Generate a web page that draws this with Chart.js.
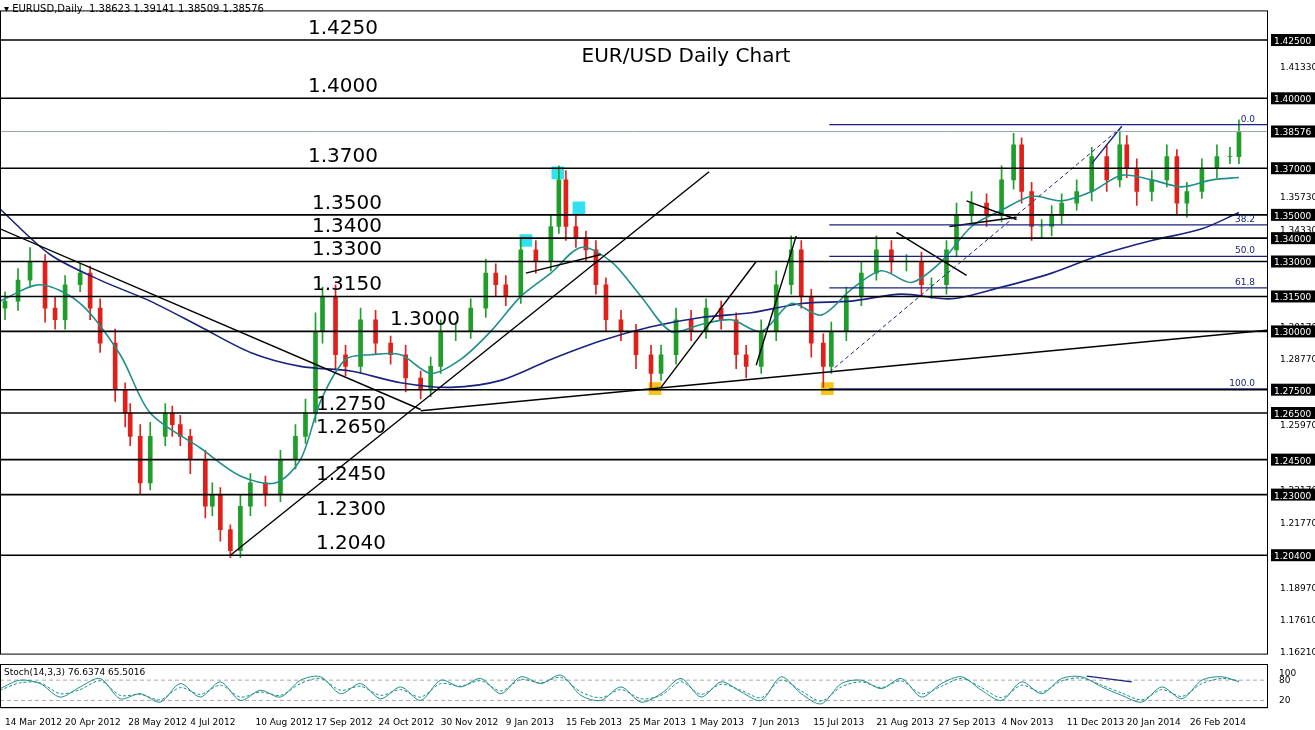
<!DOCTYPE html>
<html><head><meta charset="utf-8">
<script src="https://cdn.jsdelivr.net/npm/chart.js@4.4.0/dist/chart.umd.min.js"></script>
<style>
body{margin:0;background:#fff;font-family:"DejaVu Sans",Arial,sans-serif}
#wrap{position:relative;width:1315px;height:730px}
#main{position:absolute;left:0;top:0}
#stoch{position:absolute;left:0;top:664px}
</style></head><body>
<div id="wrap">
<canvas id="main" width="1315" height="664"></canvas>
<canvas id="stoch" width="1315" height="66"></canvas>
</div>
<script>
// ---- data (bar position, price) ----
const barX = [5,18,30,45,55,65,80,90,100,115,125,130,140,150,165,172,180,190,205,212,220,230,240,250,265,280,295,305,315,322,335,345,360,375,390,405,420,430,440,455,470,485,495,505,520,535,550,558,565,575,585,595,605,620,635,650,660,675,690,705,720,735,745,760,775,790,800,810,822,830,845,860,875,890,905,920,930,945,955,970,985,1000,1012,1020,1030,1040,1050,1060,1075,1090,1105,1118,1125,1135,1150,1165,1175,1185,1200,1215,1228,1237];
const closes = [1.3130,1.3220,1.3300,1.3100,1.3050,1.3200,1.3250,1.3100,1.2950,1.2750,1.2650,1.2550,1.2350,1.2550,1.2650,1.2600,1.2550,1.2450,1.2250,1.2300,1.2150,1.2060,1.2250,1.2350,1.2300,1.2450,1.2550,1.2650,1.3000,1.3150,1.2900,1.2850,1.3050,1.2950,1.2900,1.2800,1.2750,1.2850,1.3000,1.3000,1.3100,1.3250,1.3200,1.3150,1.3350,1.3300,1.3450,1.3650,1.3450,1.3400,1.3350,1.3200,1.3050,1.3000,1.2900,1.2820,1.2900,1.3050,1.3000,1.3100,1.3050,1.2900,1.2850,1.3000,1.3200,1.3350,1.3150,1.2950,1.2850,1.3000,1.3150,1.3250,1.3350,1.3300,1.3300,1.3200,1.3200,1.3350,1.3500,1.3550,1.3500,1.3650,1.3800,1.3600,1.3450,1.3450,1.3500,1.3550,1.3600,1.3750,1.3650,1.3800,1.3700,1.3600,1.3650,1.3750,1.3550,1.3600,1.3700,1.3750,1.3750,1.3858];
const wickUp = [.004,.005,.006,.003,.005,.004,.004,.003,.004,.006,.003,.004,.005,.006,.004,.003,.004,.003,.004,.005,.003,.002,.005,.004,.003,.004,.005,.006,.008,.004,.005,.004,.005,.004,.003,.004,.003,.004,.005,.004,.004,.006,.004,.004,.005,.004,.005,.006,.004,.005,.003,.004,.003,.004,.003,.004,.004,.005,.004,.004,.003,.003,.004,.005,.006,.006,.004,.003,.004,.004,.004,.005,.006,.004,.003,.004,.003,.004,.005,.005,.004,.006,.005,.003,.004,.003,.004,.004,.005,.004,.005,.006,.004,.004,.004,.005,.003,.004,.004,.005,.004,.005];
const wickDn = [.005,.004,.003,.006,.004,.004,.003,.005,.004,.005,.006,.004,.005,.003,.004,.005,.004,.006,.005,.004,.005,.003,.003,.004,.005,.003,.004,.003,.004,.005,.006,.004,.003,.005,.004,.006,.004,.003,.003,.004,.003,.004,.005,.004,.003,.005,.004,.003,.006,.004,.005,.004,.005,.004,.006,.007,.003,.004,.004,.003,.004,.006,.005,.003,.004,.004,.005,.006,.009,.003,.004,.004,.003,.005,.004,.005,.006,.004,.003,.004,.005,.003,.004,.005,.006,.005,.004,.004,.003,.004,.005,.003,.004,.006,.004,.003,.005,.006,.003,.004,.003,.003];

const fastX = [0,40,80,120,150,200,240,275,300,320,345,370,400,430,460,490,520,550,580,610,640,670,700,730,760,790,820,850,880,910,940,970,1000,1030,1060,1090,1120,1150,1180,1210,1237];
const fastMA = [1.3130,1.3200,1.3120,1.2900,1.2650,1.2500,1.2380,1.2350,1.2450,1.2700,1.2880,1.2900,1.2900,1.2820,1.2880,1.3000,1.3150,1.3250,1.3360,1.3300,1.3150,1.3000,1.3030,1.3050,1.3000,1.3120,1.3070,1.3180,1.3260,1.3210,1.3300,1.3450,1.3520,1.3580,1.3560,1.3600,1.3670,1.3650,1.3620,1.3650,1.3660];
const slowX = [0,50,100,150,200,250,300,350,400,450,500,550,600,650,700,750,800,850,900,950,1000,1050,1100,1150,1200,1237];
const slowMA = [1.3525,1.3330,1.3220,1.3130,1.3020,1.2910,1.2850,1.2830,1.2780,1.2760,1.2790,1.2880,1.2960,1.3020,1.3060,1.3080,1.3120,1.3130,1.3160,1.3140,1.3190,1.3250,1.3330,1.3390,1.3440,1.3510];

const levels = [1.4250,1.4000,1.3700,1.3500,1.3400,1.3300,1.3150,1.3000,1.2750,1.2650,1.2450,1.2300,1.2040];
const levelText = ["1.4250","1.4000","1.3700","1.3500","1.3400","1.3300","1.3150","1.3000","1.2750","1.2650","1.2450","1.2300","1.2040"];
const plainTicks = [1.41330,1.35730,1.34330,1.30170,1.28770,1.25970,1.23170,1.21770,1.18970,1.17610,1.16210];
const lastPrice = 1.38576;

const trendLines = [
  [[0,1.3440],[420,1.2665]],
  [[230,1.2040],[708,1.3685]],
  [[420,1.2660],[1265,1.3005]],
  [[525,1.3250],[600,1.3330]],
  [[660,1.2760],[755,1.3300]],
  [[755,1.2855],[795,1.3410]],
  [[895,1.3425],[965,1.3240]],
  [[965,1.3560],[1015,1.3480]],
  [[948,1.3450],[1015,1.3490]]
];
const navyLines = [[[1090,1.3720],[1120,1.3880]]];
const fibLevels = [1.3887,1.3457,1.3322,1.3187,1.2753];
const fibText = ["0.0","38.2","50.0","61.8","100.0"];
const cyanMarks = [[557,1.3680],[578,1.3530],[525,1.3390]];
const goldMarks = [[654,1.2755],[826,1.2755]];

const dateX = [5,65,128,190,255,315,378,440,505,565,628,690,750,812,875,937,1000,1065,1125,1188];
const dateLabels = ["14 Mar 2012","20 Apr 2012","28 May 2012","4 Jul 2012","10 Aug 2012","17 Sep 2012","24 Oct 2012","30 Nov 2012","9 Jan 2013","15 Feb 2013","25 Mar 2013","1 May 2013","7 Jun 2013","15 Jul 2013","21 Aug 2013","27 Sep 2013","4 Nov 2013","11 Dec 2013","20 Jan 2014","26 Feb 2014"];
const stochX = [0,20,40,60,80,100,120,140,160,180,200,220,240,260,280,300,320,340,360,380,400,420,440,460,480,500,520,540,560,580,600,620,640,660,680,700,720,740,760,780,800,820,840,860,880,900,920,940,960,980,1000,1020,1040,1060,1080,1100,1120,1140,1160,1180,1200,1220,1237];
const stochK = [55,80,70,30,60,85,25,40,15,70,30,75,20,50,30,80,90,40,70,25,60,20,80,60,85,40,90,70,95,35,20,60,15,40,85,30,75,45,20,90,40,10,70,80,55,85,30,70,90,50,20,75,40,85,90,60,35,15,60,25,80,90,75];
const stochD = [50,72,72,40,52,78,35,38,22,58,38,65,30,45,35,70,85,50,62,35,52,30,70,62,78,48,82,72,88,45,28,52,25,35,75,38,68,50,28,80,48,18,60,75,58,78,40,62,85,58,28,65,45,78,86,65,42,22,52,32,70,85,78];

// ---- build datasets ----
const bodies = [], wicks = [], bodyCol = [];
closes.forEach((c, i) => {
  const o = i ? closes[i-1] : c - 0.003;
  bodies.push({x: barX[i], y: [o, c]});
  wicks.push({x: barX[i], y: [Math.min(o,c) - wickDn[i], Math.max(o,c) + wickUp[i]]});
  bodyCol.push(c >= o ? '#1f9e2a' : '#e0201a');
});
const pts = (xs, ys) => xs.map((x, i) => ({x, y: ys[i]}));
const lineDs = (data, color, w, dash) => ({type:'line', data, borderColor:color, borderWidth:w, borderDash:dash||[], pointRadius:0, fill:false, tension:0.3, order:1});
const segDs = (seg, color, w, dash) => ({type:'line', data: seg.map(p => ({x:p[0], y:p[1]})), borderColor:color, borderWidth:w, borderDash:dash||[], pointRadius:0, tension:0, order:0});

const datasets = [];
levels.forEach(v => datasets.push(segDs([[0,v],[1265,v]], '#000', 1.6)));
datasets.push(segDs([[0,lastPrice],[1265,lastPrice]], '#9aa4b4', 1));
fibLevels.forEach(v => datasets.push(segDs([[828,v],[1265,v]], '#1a237e', 1.3)));
datasets.push(segDs([[828,1.2825],[1118,1.3870]], '#1a237e', 1, [4,3]));
trendLines.forEach(s => datasets.push(segDs(s, '#000', 1.4)));
navyLines.forEach(s => datasets.push(segDs(s, '#1a237e', 1.4)));
datasets.push({type:'scatter', data: cyanMarks.map(p => ({x:p[0], y:p[1]})), pointStyle:'rect', pointRadius:9, backgroundColor:'#33e0f0', borderWidth:0, order:3});
datasets.push({type:'scatter', data: goldMarks.map(p => ({x:p[0], y:p[1]})), pointStyle:'rect', pointRadius:9, backgroundColor:'#f5c518', borderWidth:0, order:3});
datasets.push(lineDs(pts(fastX, fastMA), '#1f8f8a', 1.6));
datasets.push(lineDs(pts(slowX, slowMA), '#1a237e', 1.6));
datasets.push({type:'bar', data: wicks, backgroundColor: bodyCol, barThickness:1, grouped:false, order:2});
datasets.push({type:'bar', data: bodies, backgroundColor: bodyCol, barThickness:4, grouped:false, order:2});

const fixedWidth = { afterFit: s => { s.width = 48; } };
const tickFont = {size:9, family:'DejaVu Sans'};

const labelPlugin = {
  id: 'labels',
  afterDraw(chart) {
    const {ctx, scales:{x, y}} = chart;
    ctx.save();
    ctx.fillStyle = '#000';
    ctx.font = '20px "DejaVu Sans", Arial';
    ctx.textAlign = 'center';
    ctx.fillText('EUR/USD Daily Chart', 686, 62);
    ctx.textAlign = 'left';
    const lx = {"1.4250":308,"1.4000":308,"1.3700":308,"1.3500":312,"1.3400":312,"1.3300":312,"1.3150":312,"1.3000":390,"1.2750":316,"1.2650":316,"1.2450":316,"1.2300":316,"1.2040":316};
    const below = ["1.2750","1.2650","1.2450","1.2300"];
    levels.forEach((v, i) => {
      const t = levelText[i];
      const py = y.getPixelForValue(v);
      ctx.fillText(t, lx[t], below.includes(t) ? py + 20 : py - 6);
    });
    ctx.font = '10px "DejaVu Sans", Arial';
    ctx.fillText('\u25BE EURUSD,Daily  1.38623 1.39141 1.38509 1.38576', 4, 12);
    ctx.fillStyle = '#1a237e';
    ctx.textAlign = 'right';
    ctx.font = '9px "DejaVu Sans", Arial';
    fibLevels.forEach((v, i) => ctx.fillText(fibText[i], 1255, y.getPixelForValue(v) - 3));
    // price boxes on right axis
    ctx.textAlign = 'left';
    levels.concat([lastPrice]).forEach(v => {
      const py = y.getPixelForValue(v);
      ctx.fillStyle = '#000';
      ctx.fillRect(1271, py - 6, 44, 12);
      ctx.fillStyle = '#fff';
      ctx.fillText(v.toFixed(5), 1274, py + 4);
    });
    ctx.strokeStyle = '#000';
    ctx.lineWidth = 1;
    ctx.strokeRect(x.left + 0.5, y.top + 0.5, x.right - x.left, y.bottom - y.top);
    ctx.restore();
  }
};

new Chart(document.getElementById('main'), {
  data: { datasets },
  options: {
    responsive:false, animation:false, events:[],
    layout:{autoPadding:false, padding:{top:8, right:0, left:0, bottom:3}},
    plugins:{legend:{display:false}, tooltip:{enabled:false}},
    scales:{
      x:{type:'linear', min:0, max:1265, display:false, offset:false},
      y:{type:'linear', position:'right', min:1.1618, max:1.4377, ...fixedWidth,
         grid:{display:false}, border:{display:false},
         afterBuildTicks: s => { s.ticks = plainTicks.map(v => ({value:v})); },
         ticks:{font:tickFont, color:'#000', padding:5, callback: v => v.toFixed(5)}}
    }
  },
  plugins:[labelPlugin]
});

new Chart(document.getElementById('stoch'), {
  data: { datasets: [
    {type:'line', data: pts(stochX, stochK), borderColor:'#1f8f8a', borderWidth:1, pointRadius:0, tension:0.3},
    {type:'line', data: pts(stochX, stochD), borderColor:'#1f8f8a', borderWidth:1, borderDash:[3,2], pointRadius:0, tension:0.3},
    {type:'line', data: [{x:1085,y:92},{x:1130,y:75}], borderColor:'#1a237e', borderWidth:1.4, pointRadius:0},
    {type:'line', data: [{x:0,y:80},{x:1265,y:80}], borderColor:'#aaa', borderWidth:1, borderDash:[4,3], pointRadius:0},
    {type:'line', data: [{x:0,y:20},{x:1265,y:20}], borderColor:'#aaa', borderWidth:1, borderDash:[4,3], pointRadius:0}
  ]},
  options: {
    responsive:false, animation:false, events:[],
    layout:{autoPadding:false, padding:0},
    plugins:{legend:{display:false}, tooltip:{enabled:false}},
    scales:{
      x:{type:'linear', min:0, max:1265, grid:{display:false}, border:{color:'#000'},
         afterBuildTicks: s => { s.ticks = dateX.map(v => ({value:v})); },
         ticks:{font:tickFont, color:'#000', maxRotation:0, autoSkip:false, padding:2,
                callback: (v) => dateLabels[dateX.indexOf(v)], align:'start'}},
      y:{position:'right', min:0, max:100, ...fixedWidth, grid:{display:false}, border:{color:'#000'},
         afterBuildTicks: s => { s.ticks = [20,80,100].map(v => ({value:v})); },
         ticks:{font:tickFont, color:'#000', padding:4}}
    }
  },
  plugins:[{id:'st', afterDraw(c){ const ctx=c.ctx; ctx.save(); ctx.font='9px "DejaVu Sans", Arial'; ctx.fillStyle='#000'; ctx.fillText('Stoch(14,3,3) 76.6374 65.5016', 4, 11); ctx.strokeStyle='#000'; ctx.strokeRect(0.5,0.5,c.scales.x.right,c.scales.y.bottom); ctx.restore(); }}]
});
</script>
</body></html>
